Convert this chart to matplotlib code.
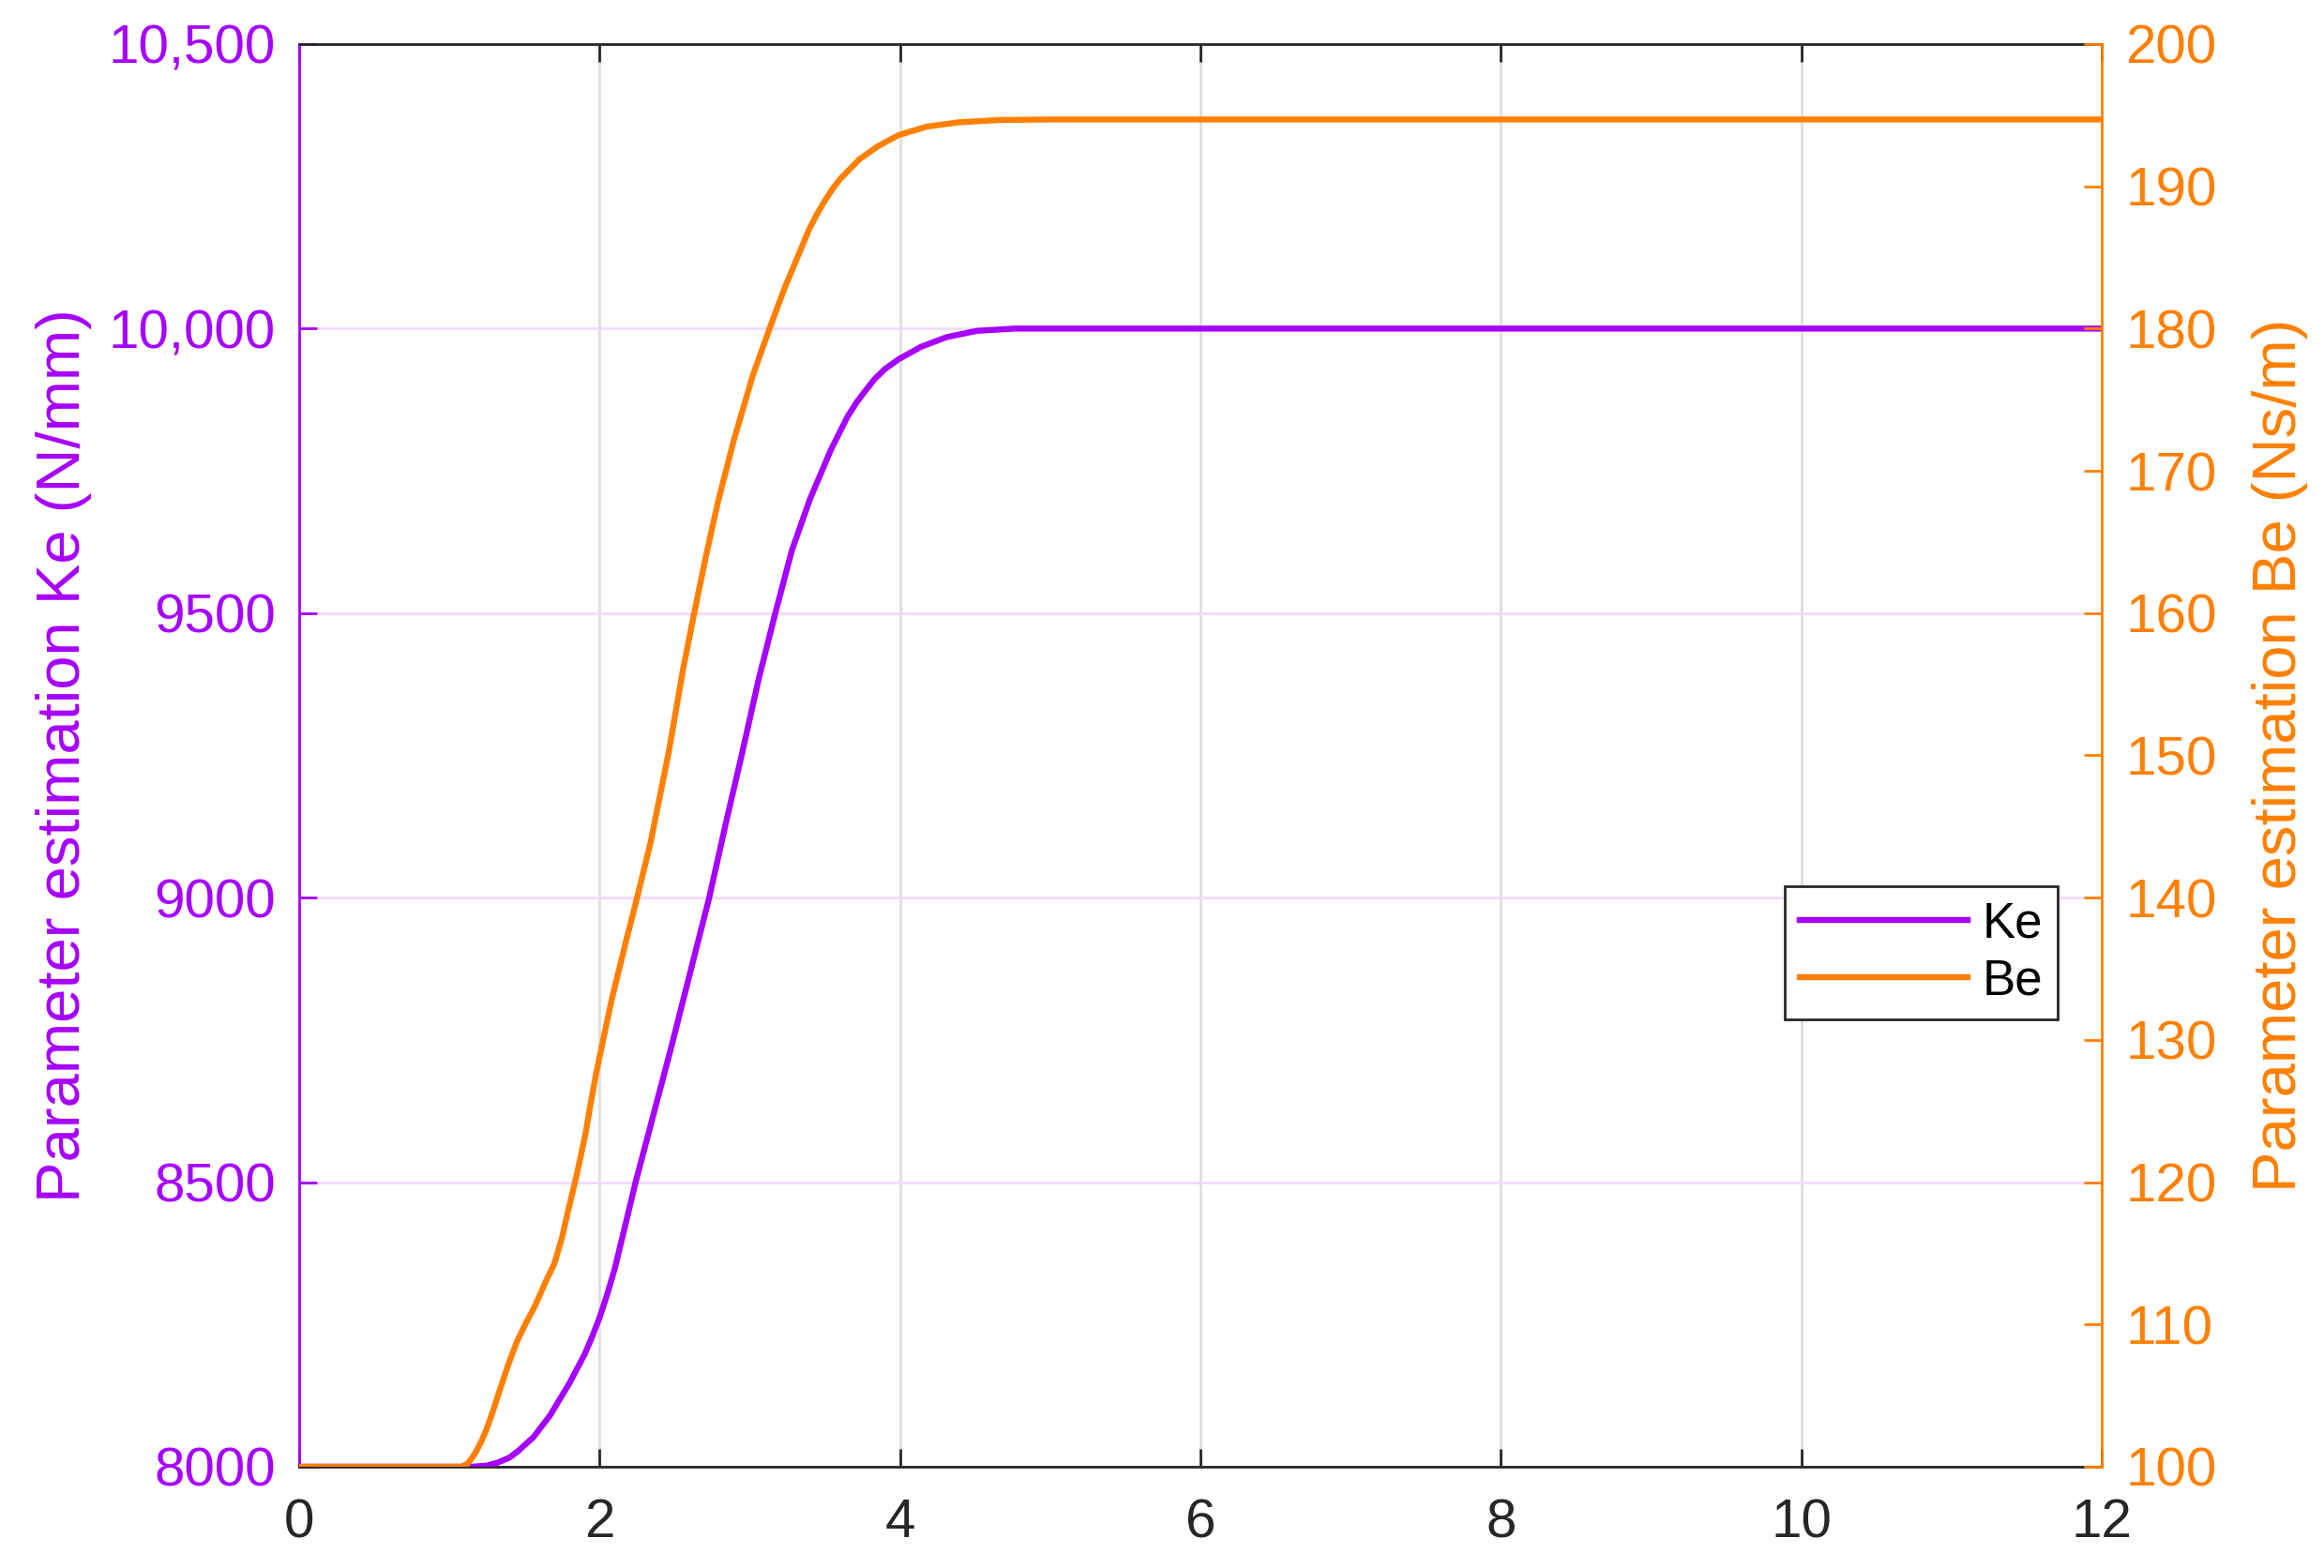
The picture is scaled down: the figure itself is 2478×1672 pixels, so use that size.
import matplotlib
matplotlib.use("Agg")
import matplotlib.pyplot as plt
from matplotlib.lines import Line2D
from matplotlib.ticker import FixedLocator, FixedFormatter

plt.rcParams['font.family'] = ['Liberation Sans', 'DejaVu Sans']

# ---------------- data ----------------
t_ke = [0, 1.15, 1.25, 1.32, 1.40, 1.46, 1.56, 1.67, 1.80, 1.90, 1.95, 2.00, 2.05,
        2.10, 2.17, 2.24, 2.36, 2.48, 2.6, 2.73, 2.84, 2.95, 3.06, 3.17, 3.28,
        3.40, 3.54, 3.65, 3.71, 3.77, 3.83, 3.90, 3.99, 4.14, 4.31, 4.51, 4.76, 5.0, 12]
ke = [8000, 8000, 8002, 8007, 8016, 8028, 8052, 8090, 8147, 8197, 8228, 8262, 8302,
      8347, 8423, 8500, 8620, 8740, 8865, 9000, 9130, 9255, 9385, 9500, 9610,
      9700, 9787, 9845, 9870, 9891, 9911, 9929, 9946, 9968, 9985, 9996, 10000, 10000, 10000]

t_be = [0, 1.08, 1.12, 1.15, 1.18, 1.21, 1.25, 1.29, 1.33, 1.39, 1.45, 1.51, 1.57,
        1.65, 1.70, 1.75, 1.80, 1.85, 1.91, 1.94, 1.98, 2.08, 2.18, 2.25, 2.34, 2.46, 2.555,
        2.63, 2.71, 2.79, 2.895, 3.02, 3.135, 3.23, 3.313, 3.396, 3.45, 3.50, 3.55,
        3.60, 3.73, 3.85, 3.99, 4.18, 4.39, 4.66, 5.0, 12]
be = [100, 100, 100.2, 100.6, 101.1, 101.7, 102.7, 103.9, 105.2, 107.1, 108.8, 110.1, 111.3,
      113.2, 114.3, 116.1, 118.4, 120.6, 123.6, 125.5, 127.8, 132.8, 137.1, 140.0, 143.9, 150.2, 156.0,
      160.0, 164.1, 167.9, 172.2, 176.7, 180.1, 182.8, 184.9, 187.0, 188.1, 189.0, 189.8,
      190.5, 191.9, 192.8, 193.6, 194.2, 194.5, 194.66, 194.7, 194.7]

x_ticks = [0, 2, 4, 6, 8, 10, 12]
x_ticklabels = ['0', '2', '4', '6', '8', '10', '12']
ke_ticks = [8000, 8500, 9000, 9500, 10000, 10500]
ke_ticklabels = ['8000', '8500', '9000', '9500', '10,000', '10,500']
be_ticks = [100, 110, 120, 130, 140, 150, 160, 170, 180, 190, 200]
be_ticklabels = ['100', '110', '120', '130', '140', '150', '160', '170', '180', '190', '200']
series_names = ['Ke', 'Be']

# ---------------- style ----------------
PURPLE = '#A600FF'
ORANGE = '#FF8000'
DARK = '#262626'
GRID_X = '#DEDEDE'
GRID_Y = '#F2D9FF'
TICK_FS = 21
LABEL_FS = 23.5
LW = 2.3

fig = plt.figure(figsize=(12.39, 8.36), dpi=200)
ax = fig.add_axes([0.1287, 0.0646, 0.9044 - 0.1287, 0.9719 - 0.0646])
ax2 = ax.twinx()

ax.plot(t_ke, ke, color=PURPLE, lw=LW, zorder=3, solid_joinstyle='round')
ax2.plot(t_be, be, color=ORANGE, lw=LW, zorder=3, solid_joinstyle='round')

ax.set_xlim(0, 12)
ax.set_ylim(8000, 10500)
ax2.set_ylim(100, 200)

ax.xaxis.set_major_locator(FixedLocator(x_ticks))
ax.xaxis.set_major_formatter(FixedFormatter(x_ticklabels))
ax.yaxis.set_major_locator(FixedLocator(ke_ticks))
ax.yaxis.set_major_formatter(FixedFormatter(ke_ticklabels))
ax2.yaxis.set_major_locator(FixedLocator(be_ticks))
ax2.yaxis.set_major_formatter(FixedFormatter(be_ticklabels))

# grid
ax.set_axisbelow(True)
ax.grid(True, axis='x', color=GRID_X, lw=1.0)
ax.grid(True, axis='y', color=GRID_Y, lw=1.0)

# spines
for s in ['top', 'bottom']:
    ax.spines[s].set_color(DARK)
    ax2.spines[s].set_visible(False)
ax.spines['left'].set_color(PURPLE)
ax.spines['right'].set_visible(False)
ax2.spines['left'].set_visible(False)
ax2.spines['right'].set_color(ORANGE)
for a in (ax, ax2):
    for s in a.spines.values():
        s.set_linewidth(1.0)

# ticks
ax.tick_params(axis='x', direction='in', length=7, width=1.0, colors=DARK,
               labelsize=TICK_FS, pad=12, top=True)
ax.tick_params(axis='y', direction='in', length=7, width=1.0, colors=PURPLE,
               labelsize=TICK_FS, pad=9, right=False)
ax2.tick_params(axis='y', direction='in', length=7, width=1.0, colors=ORANGE,
                labelsize=TICK_FS, pad=9)

ax.set_ylabel('Parameter estimation Ke (N/mm)', fontsize=LABEL_FS, color=PURPLE)
ax2.set_ylabel('Parameter estimation Be (Ns/m)', fontsize=LABEL_FS, color=ORANGE)
ax.yaxis.set_label_coords(-0.115, 0.5)
ax2.yaxis.set_label_coords(1.083, 0.5)

handles = [Line2D([], [], color=PURPLE, lw=LW), Line2D([], [], color=ORANGE, lw=LW)]
leg = ax2.legend(handles, series_names, loc='upper left', bbox_to_anchor=(0.824, 0.408),
                 borderaxespad=0, fontsize=19, handlelength=3.4, handletextpad=0.3,
                 labelspacing=0.2, borderpad=0.3, fancybox=False, framealpha=1,
                 edgecolor=DARK)
leg.get_frame().set_linewidth(1.0)

fig.savefig('out.png', dpi=200, facecolor='white')
